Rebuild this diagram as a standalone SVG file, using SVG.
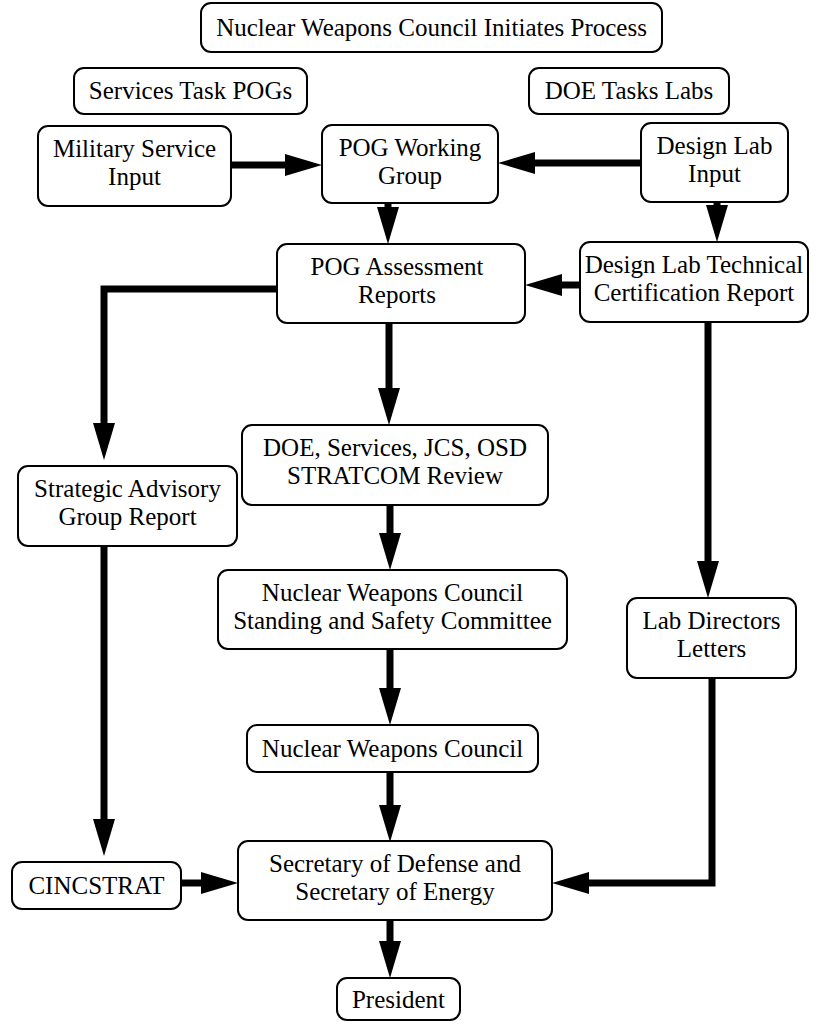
<svg xmlns="http://www.w3.org/2000/svg" width="821" height="1025" viewBox="0 0 821 1025">
<style>
.box{fill:#fff;stroke:#000;stroke-width:2}
.t{font-family:"Liberation Serif","Times New Roman",serif;font-size:25px;fill:#000;text-anchor:middle}
.c{fill:none;stroke:#000;stroke-width:7;stroke-linejoin:miter}
</style>
<defs>
<marker id="ah" viewBox="0 -11 37 22" markerWidth="37" markerHeight="22" refX="0" refY="0" orient="auto" markerUnits="userSpaceOnUse">
<path d="M0,-11 L37,0 L0,11 z" fill="#000"/>
</marker>
</defs>
<rect width="821" height="1025" fill="#fff"/>
<g id="connectors">
<path class="c" d="M231,165 H285" marker-end="url(#ah)"/>
<path class="c" d="M641,163 H535" marker-end="url(#ah)"/>
<path class="c" d="M388,203 V207" marker-end="url(#ah)"/>
<path class="c" d="M717,202 V205" marker-end="url(#ah)"/>
<path class="c" d="M580,285 H562" marker-end="url(#ah)"/>
<path class="c" d="M277,289 H104 V423" marker-end="url(#ah)"/>
<path class="c" d="M389,323 V388" marker-end="url(#ah)"/>
<path class="c" d="M708,322 V561" marker-end="url(#ah)"/>
<path class="c" d="M390,505 V533" marker-end="url(#ah)"/>
<path class="c" d="M390,649 V688" marker-end="url(#ah)"/>
<path class="c" d="M104,546 V819" marker-end="url(#ah)"/>
<path class="c" d="M390,772 V805" marker-end="url(#ah)"/>
<path class="c" d="M181,883 H201" marker-end="url(#ah)"/>
<path class="c" d="M712,678 V883 H589" marker-end="url(#ah)"/>
<path class="c" d="M390,920 V941" marker-end="url(#ah)"/>
</g>
<g id="n1"><rect class="box" x="201" y="3" width="461" height="49" rx="10"/><text class="t" x="431.5" y="36">Nuclear Weapons Council Initiates Process</text></g>
<g id="n2"><rect class="box" x="74" y="68" width="233" height="46" rx="10"/><text class="t" x="190.5" y="99">Services Task POGs</text></g>
<g id="n3"><rect class="box" x="529" y="68" width="200" height="46" rx="10"/><text class="t" x="629" y="99">DOE Tasks Labs</text></g>
<g id="n4"><rect class="box" x="38" y="126" width="193" height="80" rx="10"/><text class="t" x="134.5" y="157">Military Service</text><text class="t" x="134.5" y="185">Input</text></g>
<g id="n5"><rect class="box" x="322" y="125" width="176" height="78" rx="10"/><text class="t" x="410" y="156">POG Working</text><text class="t" x="410" y="184">Group</text></g>
<g id="n6"><rect class="box" x="641" y="123" width="147" height="79" rx="10"/><text class="t" x="714.5" y="154">Design Lab</text><text class="t" x="714.5" y="182">Input</text></g>
<g id="n7"><rect class="box" x="277" y="244" width="248" height="79" rx="10"/><text class="t" x="397" y="275">POG Assessment</text><text class="t" x="397" y="303">Reports</text></g>
<g id="n8"><rect class="box" x="580" y="242" width="228" height="80" rx="10"/><text class="t" x="694" y="273">Design Lab Technical</text><text class="t" x="694" y="301">Certification Report</text></g>
<g id="n9"><rect class="box" x="18" y="466" width="219" height="80" rx="10"/><text class="t" x="127.5" y="497">Strategic Advisory</text><text class="t" x="127.5" y="525">Group Report</text></g>
<g id="n10"><rect class="box" x="242" y="425" width="306" height="80" rx="10"/><text class="t" x="395" y="456">DOE, Services, JCS, OSD</text><text class="t" x="395" y="484">STRATCOM Review</text></g>
<g id="n11"><rect class="box" x="627" y="598" width="169" height="80" rx="10"/><text class="t" x="711.5" y="629">Lab Directors</text><text class="t" x="711.5" y="657">Letters</text></g>
<g id="n12"><rect class="box" x="218" y="570" width="349" height="79" rx="10"/><text class="t" x="392.5" y="601">Nuclear Weapons Council</text><text class="t" x="392.5" y="629">Standing and Safety Committee</text></g>
<g id="n13"><rect class="box" x="247" y="725" width="291" height="47" rx="10"/><text class="t" x="392.5" y="757">Nuclear Weapons Council</text></g>
<g id="n14"><rect class="box" x="12" y="862" width="169" height="47" rx="10"/><text class="t" x="96.5" y="894">CINCSTRAT</text></g>
<g id="n15"><rect class="box" x="238" y="841" width="314" height="79" rx="10"/><text class="t" x="395" y="872">Secretary of Defense and</text><text class="t" x="395" y="900">Secretary of Energy</text></g>
<g id="n16"><rect class="box" x="337" y="978" width="123" height="42" rx="10"/><text class="t" x="398.5" y="1008">President</text></g>
</svg>
